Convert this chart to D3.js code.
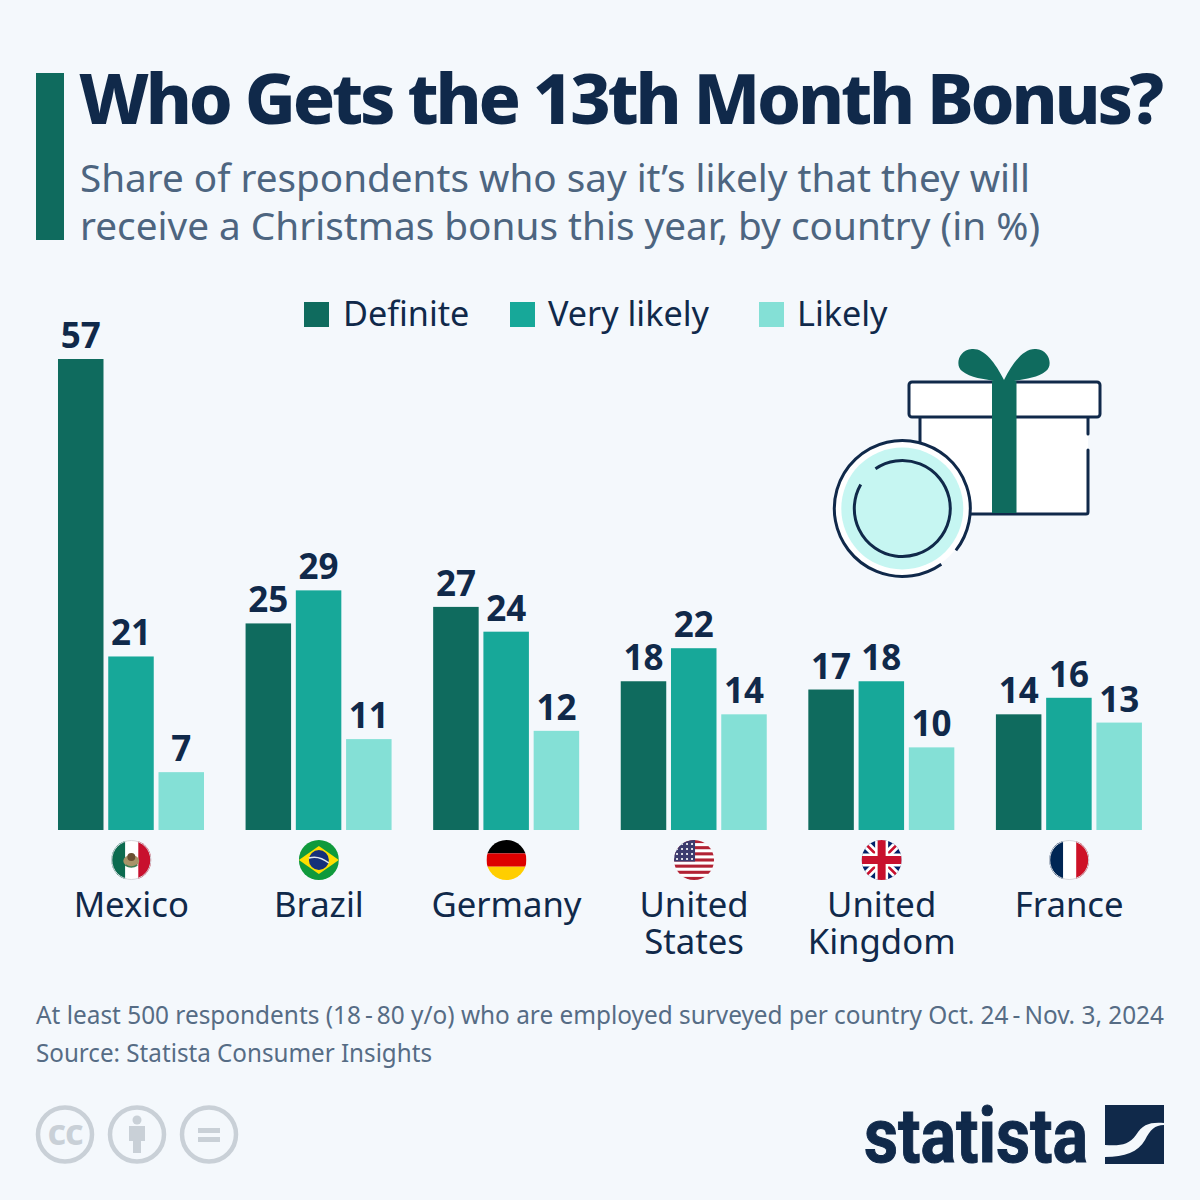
<!DOCTYPE html>
<html><head><meta charset="utf-8">
<script src="https://cdn.jsdelivr.net/npm/d3@7"></script>
<style>html,body{margin:0;padding:0;background:#f4f8fc}svg{display:block}text{font-family:"Noto Sans","Open Sans",sans-serif}</style>
</head><body><svg id="c" width="1200" height="1200" viewBox="0 0 1200 1200"></svg>
<script>
const categories=["Mexico","Brazil","Germany","United States","United Kingdom","France"];
const categoryLines=[["Mexico"],["Brazil"],["Germany"],["United","States"],["United","Kingdom"],["France"]];
const seriesNames=["Definite","Very likely","Likely"];
const definite=[57,25,27,18,17,14];
const veryLikely=[21,29,24,22,18,16];
const likely=[7,11,12,14,10,13];
const seriesColors=["#0f6b5e","#17a899","#84e0d6"];
const titleText="Who Gets the 13th Month Bonus?";
const subtitleLines=["Share of respondents who say it\u2019s likely that they will","receive a Christmas bonus this year, by country (in %)"];
const footLines=["At least 500 respondents (18\u2009-\u200980 y/o) who are employed surveyed per country Oct. 24\u2009-\u2009Nov. 3, 2024","Source: Statista Consumer Insights"];
const seriesValues=[definite,veryLikely,likely];
const navy="#10294a", slate="#4d6580", foot="#566c85";
const svg=d3.select("#c");
svg.append("rect").attr("width",1200).attr("height",1200).attr("fill","#f4f8fc");
const defs=svg.append("defs");
svg.append("rect").attr("x",36).attr("y",73).attr("width",28).attr("height",167).attr("fill","#0f6b5e");
const title=svg.append("text").attr("x",79).attr("y",124).attr("font-size",70).attr("font-weight",800).attr("fill",navy).text(titleText);
const natural=title.node().getComputedTextLength();
title.style("letter-spacing",((1082-natural)/titleText.length)+"px");
subtitleLines.forEach((t,i)=>svg.append("text").attr("x",80).attr("y",[192,240][i]).attr("font-size",38.5).attr("fill",slate).attr("textLength",[950,960][i]).attr("lengthAdjust","spacingAndGlyphs").text(t));

const x0=d3.scaleBand().domain(categories).range([37.5,1163]);
const x1=d3.scaleBand().domain(seriesNames).range([-73.3,72.7]).paddingInner(0.0945).paddingOuter(0);
const y=d3.scaleLinear().domain([0,57]).range([830,359]);

// legend
const legX=[304,510,759], legT=[343,548,797];
seriesNames.forEach((s,i)=>{
  svg.append("rect").attr("x",legX[i]).attr("y",302).attr("width",25).attr("height",25).attr("fill",seriesColors[i]);
  svg.append("text").attr("x",legT[i]).attr("y",326).attr("font-size",34.2).attr("fill",navy).text(s);
});

// bars
const groups=svg.selectAll("g.cat").data(categories).join("g").attr("class","cat").attr("transform",d=>`translate(${x0(d)+x0.bandwidth()/2},0)`);
seriesNames.forEach((s,si)=>{
  groups.append("rect").attr("x",x1(s)).attr("width",x1.bandwidth())
    .attr("y",(d,i)=>y(seriesValues[si][i])).attr("height",(d,i)=>830-y(seriesValues[si][i])).attr("fill",seriesColors[si]);
  groups.append("text").attr("x",x1(s)+x1.bandwidth()/2).attr("y",(d,i)=>y(seriesValues[si][i])-11)
    .attr("text-anchor","middle").attr("font-size",35).attr("font-weight",700).attr("fill",navy).text((d,i)=>seriesValues[si][i]);
});
// category labels
groups.each(function(d,i){
  const t=d3.select(this).append("text").attr("y",917).attr("text-anchor","middle").attr("font-size",34.7).attr("fill",navy);
  categoryLines[i].forEach((s,k)=>t.append("tspan").attr("x",0).attr("y",917+k*37).text(s));
});

// flags
const flagR=20;
function flag(i,draw,ring){
  const g=groups.filter((d,k)=>k===i).append("g").attr("transform","translate(0,860)");
  defs.append("clipPath").attr("id","f"+i).append("circle").attr("r",flagR);
  const inner=g.append("g").attr("clip-path",`url(#f${i})`);
  draw(inner);
  if(ring)g.append("circle").attr("r",flagR-.5).attr("fill","none").attr("stroke","#d5d8dd").attr("stroke-width",1);
}
const R=(g,x,y,w,h,f)=>g.append("rect").attr("x",x).attr("y",y).attr("width",w).attr("height",h).attr("fill",f);
flag(0,g=>{R(g,-20,-20,14,40,"#0c6b4f");R(g,-6,-20,13,40,"#fff");R(g,7,-20,13,40,"#c8102e");
  g.append("ellipse").attr("cy",1).attr("rx",8).attr("ry",6).attr("fill","#a89468");g.append("circle").attr("cy",-3).attr("r",4).attr("fill","#6a4f32");g.append("path").attr("d","M-6,5Q0,9 6,5").attr("stroke","#3f7d54").attr("stroke-width",1.6).attr("fill","none");},true);
flag(1,g=>{R(g,-20,-20,40,40,"#0f9a3c");g.append("path").attr("d","M-20,0L0,-14L20,0L0,14Z").attr("fill","#fedf00");
  g.append("circle").attr("r",10).attr("fill","#16307a");g.append("path").attr("d","M-10,-2Q0,-5 10,3").attr("stroke","#dfe8ee").attr("stroke-width",1.6).attr("fill","none");});
flag(2,g=>{R(g,-20,-20,40,13.4,"#000");R(g,-20,-6.6,40,13.3,"#dd0000");R(g,-20,6.7,40,13.3,"#ffce00");});
flag(3,g=>{R(g,-20,-20,40,40,"#fff");d3.range(7).forEach(k=>R(g,-20,-20+k*6.15,40,3.08,"#b22234"));R(g,-20,-20,21,21.5,"#3c3b6e");
  d3.range(4).forEach(a=>d3.range(4).forEach(b=>g.append("circle").attr("cx",-17+b*5).attr("cy",-16+a*5).attr("r",1.1).attr("fill","#fff")));});
flag(4,g=>{R(g,-20,-20,40,40,"#012169");
  g.append("path").attr("d","M-20,-20L20,20M20,-20L-20,20").attr("stroke","#fff").attr("stroke-width",8);
  g.append("path").attr("d","M-20,-20L20,20M20,-20L-20,20").attr("stroke","#c8102e").attr("stroke-width",2.6);
  R(g,-20,-6.5,40,13,"#fff");R(g,-6.5,-20,13,40,"#fff");R(g,-20,-4,40,8,"#c8102e");R(g,-4,-20,8,40,"#c8102e");});
flag(5,g=>{R(g,-20,-20,14,40,"#002654");R(g,-6,-20,13,40,"#fff");R(g,7,-20,13,40,"#ce1126");},true);

// gift illustration
const ink="#10294a", ic=svg.append("g"), deg=Math.PI/180, px=902.3, py=508.5;
ic.append("path").attr("d","M920,417V514H1088V417Z").attr("fill","#fff");
ic.append("path").attr("d","M920,417V445M920,514H1086Q1088,514 1088,512V450M1088,417V434").attr("fill","none").attr("stroke",ink).attr("stroke-width",3).attr("stroke-linecap","round");
ic.append("rect").attr("x",909).attr("y",382).attr("width",191).attr("height",35).attr("rx",3).attr("fill","#fff").attr("stroke",ink).attr("stroke-width",3);
ic.append("rect").attr("x",992).attr("y",381).attr("width",24.5).attr("height",132).attr("fill","#0f6b5e");
ic.append("path").attr("d","M1004,380C995,362 984,348 972,349C958,350 955,366 962,371C970,378 985,379 994,381H1014C1024,379 1038,378 1046,371C1053,366 1050,350 1036,349C1024,348 1013,362 1004,380Z").attr("fill","#0f6b5e");
ic.append("circle").attr("cx",px).attr("cy",py).attr("r",67).attr("fill","#fff");
ic.append("circle").attr("cx",px).attr("cy",py).attr("r",61).attr("fill","#c6f6f2");
const arc=d3.arc();
const ringArc=(r,a0,a1)=>ic.append("path").attr("transform",`translate(${px},${py})`).attr("d",arc({innerRadius:r,outerRadius:r,startAngle:a0*deg,endAngle:a1*deg})).attr("fill","none").attr("stroke",ink).attr("stroke-width",3).attr("stroke-linecap","round");
ringArc(68,145,488);
ringArc(48,-34,300);

// footnotes
footLines.forEach((t,i)=>svg.append("text").attr("x",36).attr("y",1024+i*38).attr("font-size",25).attr("fill",foot).attr("textLength",i?396:1128).attr("lengthAdjust","spacingAndGlyphs").text(t));

// cc icons
const cc=svg.append("g"), gray="#c9d0d7";
[65,137,209].forEach(cx=>cc.append("circle").attr("cx",cx).attr("cy",1134.5).attr("r",27).attr("fill","none").attr("stroke",gray).attr("stroke-width",4.5));
cc.append("text").attr("x",65).attr("y",1145).attr("text-anchor","middle").attr("font-size",36).attr("font-weight",700).attr("fill",gray).style("letter-spacing","-1px").text("cc");
cc.append("circle").attr("cx",137).attr("cy",1120).attr("r",4.5).attr("fill",gray);
cc.append("path").attr("d","M129,1126H145V1141H141V1153H133V1141H129Z").attr("fill",gray);
R(cc,198,1128,22,5,gray);R(cc,198,1137,22,5,gray);

// statista logo
svg.append("text").attr("x",864).attr("y",1162).attr("font-size",76).attr("font-weight",700).attr("fill",navy).attr("stroke",navy).attr("stroke-width",1).attr("textLength",224).attr("lengthAdjust","spacingAndGlyphs").style("font-family","'Liberation Sans Narrow',Roboto,sans-serif").text("statista");
svg.append("path").attr("d","M1105,1105H1164V1123C1150,1122 1143,1124 1136,1135C1129,1145 1120,1146 1105,1145ZM1164,1125C1155,1125 1150,1130 1145,1140C1138,1152 1125,1157 1105,1157V1164H1164Z").attr("fill",navy);
</script></body></html>
